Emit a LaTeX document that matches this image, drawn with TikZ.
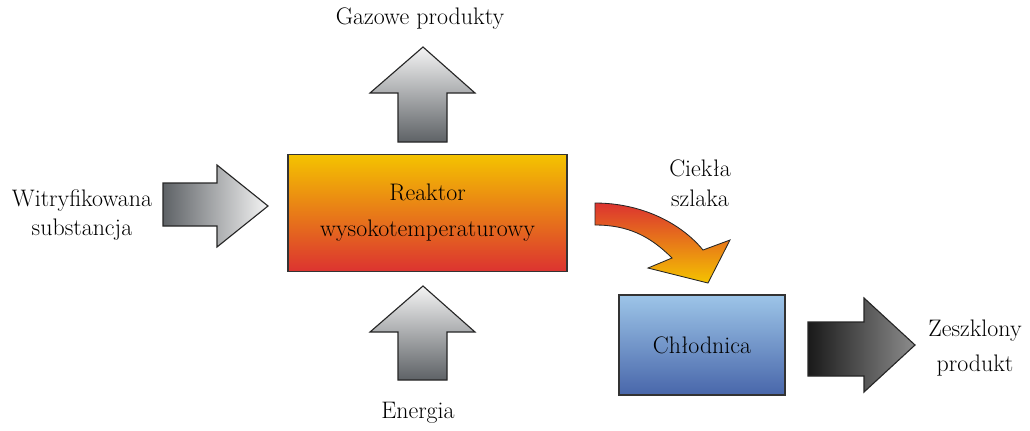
\documentclass[tikz,border=0pt]{standalone}
\usepackage{fontspec}
\usetikzlibrary{positioning}
\usepackage{xcolor}

\definecolor{reaktorgora}{HTML}{F4C300}
\definecolor{reaktorsrodek}{HTML}{EB8F3A}
\definecolor{reaktordol}{HTML}{DC3330}
\definecolor{chlodgora}{HTML}{9DC5E8}
\definecolor{chloddol}{HTML}{4866AA}
\definecolor{szary}{HTML}{5E6266}
\definecolor{jasny}{HTML}{F4F4F4}

\begin{document}
\begin{tikzpicture}[x=0.025cm, y=-0.025cm,
    every node/.style={font=\rmfamily\fontsize{17}{21}\selectfont, text=black, align=center},
    blok/.style={draw=black!80, line width=0.9pt},
    strzalka/.style={draw=black!85, line width=0.8pt, line join=miter}]

    \useasboundingbox (0,0) rectangle (1030,430);

    % Boxes
    \node[blok, minimum width=6.975cm, minimum height=2.925cm,
          top color=reaktorgora, middle color=reaktorsrodek, bottom color=reaktordol,
          font=\rmfamily\fontsize{17}{25.6}\selectfont] (reaktor) at (427.5,213) {Reaktor\\wysokotemperaturowy};
    \node[blok, minimum width=4.15cm, minimum height=2.5cm,
          top color=chlodgora, bottom color=chloddol] (chlodnica) at (702,345) {Chłodnica};

    % Labels
    \node (gazowe)    at (420,19)  {Gazowe produkty};
    \node (energia)   at (418,413) {Energia};
    \node[font=\rmfamily\fontsize{17}{20}\selectfont] (witryf) at (82,215) {Witryfikowana\\substancja};
    \node (ciekla)    at (700,183) {Ciekła\\szlaka};
    \node[font=\rmfamily\fontsize{17}{25}\selectfont] (zeszklony) at (975,348) {Zeszklony\\produkt};

    % Block arrows
    \draw[strzalka, left color=szary, right color=jasny]
        (163,183) -- (217,183) -- (217,165) -- (268,206) -- (217,247) -- (217,226) -- (163,226) -- cycle;
    \draw[strzalka, top color=jasny, bottom color=szary]
        (398,142) -- (398,93) -- (370,93) -- (423,47) -- (475,93) -- (447,93) -- (447,142) -- cycle;
    \draw[strzalka, top color=jasny, bottom color=szary]
        (398,380) -- (398,332) -- (370,332) -- (423,286) -- (475,332) -- (447,332) -- (447,380) -- cycle;
    \draw[strzalka, left color=black!90, right color=black!45]
        (808,322) -- (864,322) -- (864,298) -- (915,345) -- (864,392) -- (864,376) -- (808,376) -- cycle;

    % Curved arrow (slag)
    \draw[strzalka, line width=0.6pt, top color=reaktordol, bottom color=reaktorgora]
        (595,203) .. controls (640,203) and (680,222) .. (703,250)
        -- (730,240) -- (708,283) -- (648,268) -- (672,258)
        .. controls (650,236) and (628,225) .. (595,225) -- cycle;
\end{tikzpicture}
\end{document}
